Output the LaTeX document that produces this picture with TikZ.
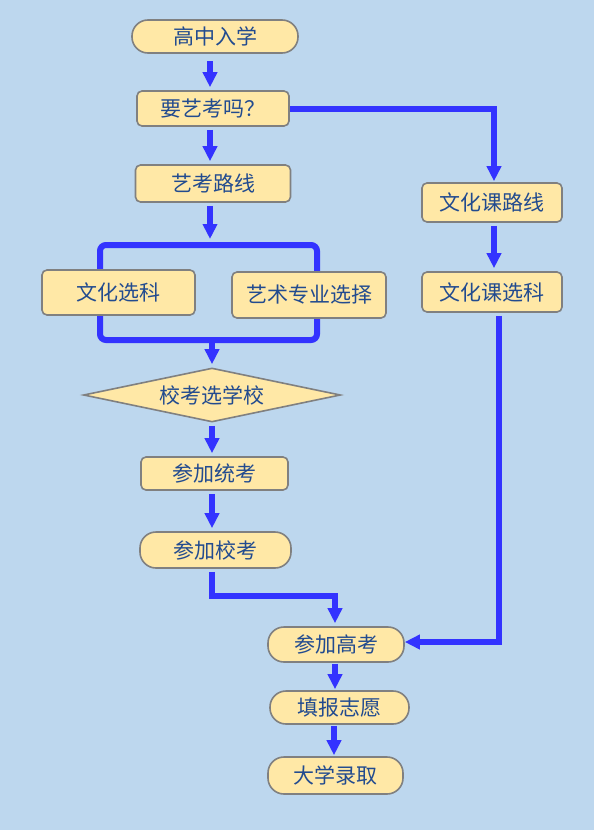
\documentclass[tikz,border=0pt]{standalone}
\usepackage{fontspec}
\setmainfont{Noto Sans CJK SC}
\usetikzlibrary{arrows.meta,shapes.geometric}
\definecolor{bgc}{HTML}{BDD7EE}
\definecolor{boxfill}{HTML}{FFE8A6}
\definecolor{boxline}{HTML}{808080}
\definecolor{txt}{HTML}{224B8F}
\definecolor{arr}{HTML}{3333FF}
\tikzset{
  base/.style={draw=boxline,line width=1.6pt,fill=boxfill,text=txt,font=\fontsize{21}{24}\selectfont,inner sep=0pt},
  pill/.style={base,rounded corners=16pt},
  boxr/.style={base,rounded corners=5pt},
  decision/.style={base,diamond,aspect=4.76,minimum width=257pt,minimum height=54pt},
  flow/.style={draw=arr,line width=6pt,-{Triangle[length=15pt,width=14pt]},shorten <=3pt,shorten >=3pt},
}
\begin{document}
\begin{tikzpicture}[x=1pt,y=-1pt]
\fill[bgc] (0,0) rectangle (594,830);
\useasboundingbox (0,0) rectangle (594,830);
% bracket
\draw[draw=arr,line width=6pt,rounded corners=6pt] (100,245) rectangle (317,340);
\coordinate (brtop) at (210,242);
\coordinate (brbot) at (212,340);
% nodes
\node[pill,minimum width=166pt,minimum height=33pt] (start) at (215,36.5) {高中入学};
\node[boxr,minimum width=152pt,minimum height=35pt] (q) at (213,108.5) {要艺考吗？};
\node[boxr,minimum width=155pt,minimum height=37pt] (art) at (213,183.5) {艺考路线};
\node[boxr,minimum width=153pt,minimum height=45pt] (wh) at (118.5,292.5) {文化选科};
\node[boxr,minimum width=154pt,minimum height=46pt] (zy) at (309,295) {艺术专业选择};
\node[decision] (xk) at (212,395) {校考选学校};
\node[boxr,minimum width=147pt,minimum height=33pt] (tk) at (214.5,473.5) {参加统考};
\node[pill,minimum width=151pt,minimum height=36pt] (xkao) at (215.5,550) {参加校考};
\node[boxr,minimum width=140pt,minimum height=39pt] (wkl) at (492,202.5) {文化课路线};
\node[boxr,minimum width=140pt,minimum height=40pt] (wkx) at (492,292) {文化课选科};
\node[pill,minimum width=136pt,minimum height=35pt] (gk) at (336,644.5) {参加高考};
\node[pill,minimum width=139pt,minimum height=33pt] (tb) at (339.5,707.5) {填报志愿};
\node[pill,minimum width=135pt,minimum height=37pt] (lq) at (335.5,775.5) {大学录取};
% connectors
\draw[flow,shorten <=0pt] (210,61) -- (q.north -| 210,0);
\draw[flow] (q.south -| 210,0) -- (art.north -| 210,0);
\draw[flow] (art.south -| 210,0) -- (brtop);
\draw[flow,shorten <=0pt] (brbot) -- (xk.north);
\draw[flow] (xk.south) -- (tk.north -| 212,0);
\draw[flow] (tk.south -| 212,0) -- (xkao.north -| 212,0);
\draw[flow] (xkao.south -| 212,0) -- (212,596) -- (335,596) -- (gk.north -| 335,0);
\draw[flow,shorten <=0pt,shorten >=1pt] (q.east) -- (494,108.5) -- (wkl.north -| 494,0);
\draw[flow] (wkl.south -| 494,0) -- (wkx.north -| 494,0);
\draw[flow,shorten >=0pt] (wkx.south -| 498.5,0) -- (498.5,642) -- (gk.east |- 0,642);
\draw[flow,shorten <=1pt,shorten >=1pt] (gk.south -| 335,0) -- (tb.north -| 335,0);
\draw[flow,shorten <=1pt,shorten >=1pt] (tb.south -| 334,0) -- (lq.north -| 334,0);
\end{tikzpicture}
\end{document}
